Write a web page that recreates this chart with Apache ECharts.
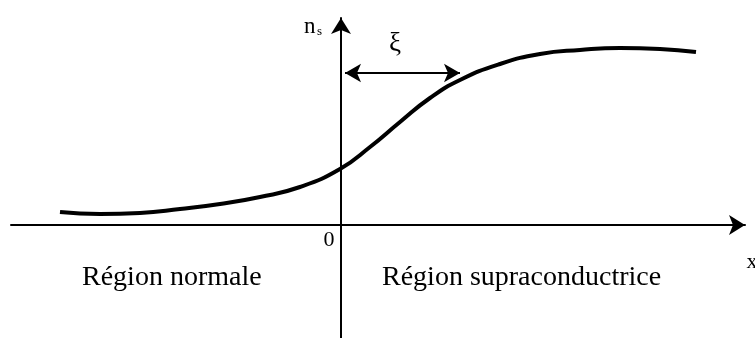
<!DOCTYPE html>
<html>
<meta charset="UTF-8">
<title>ns-interface</title>
<style type="text/css">
    html,
    body {
        margin: 0px;
        height: 100%;
        width: 100%;
        background: #fff;
    }

    .container {
        width: 755px;
        height: 338px;
    }
</style>
<script src="https://cdn.jsdelivr.net/npm/echarts@6/dist/echarts.min.js"></script>

<body>
    <div class="container" id="chart"></div>
    <script>

        // position x (0 = interface) and superfluid density n_s
        const xs = [-2.81, -2.41, -2.01, -1.61, -1.21, -0.81, -0.41, -0.01,
            0.29, 0.59, 0.89, 1.19, 1.59, 1.99, 2.39, 2.79, 3.19, 3.55];
        const ns = [0.13, 0.11, 0.12, 0.16, 0.21, 0.28, 0.38, 0.56,
            0.78, 1.03, 1.27, 1.45, 1.61, 1.71, 1.75, 1.77, 1.76, 1.73];
        // coherence length arrow (ξ)
        const xiStart = [0.04, 1.52];
        const xiEnd = [1.19, 1.52];

        const serif = '"Liberation Serif", "DejaVu Serif", serif';
        const chart = echarts.init(document.querySelector('#chart'));

        const axisLine = {
            onZero: true,
            symbol: ['none', 'arrow'],
            symbolSize: [15, 16],
            lineStyle: { color: '#000', width: 2 }
        };

        const options = {
            animation: false,
            grid: { left: 11, right: 10, top: 18, bottom: 0 },
            xAxis: {
                type: 'value',
                min: -3.3,
                max: 4.04,
                axisLine: axisLine,
                axisTick: { show: false },
                axisLabel: { show: false },
                splitLine: { show: false }
            },
            yAxis: {
                type: 'value',
                min: -1.13,
                max: 2.07,
                axisLine: axisLine,
                axisTick: { show: false },
                axisLabel: { show: false },
                splitLine: { show: false }
            },
            graphic: [
                { type: 'text', x: 304, y: 27, style: { text: 'n', font: '23px ' + serif, fill: '#000', verticalAlign: 'middle' } },
                { type: 'text', x: 317, y: 32, style: { text: 's', font: '13px ' + serif, fill: '#000', verticalAlign: 'middle' } },
                { type: 'text', x: 395, y: 44, style: { text: 'ξ', font: '27px ' + serif, fill: '#000', align: 'center', verticalAlign: 'middle' } },
                { type: 'text', x: 329, y: 240, style: { text: '0', font: '22px ' + serif, fill: '#000', align: 'center', verticalAlign: 'middle' } },
                { type: 'text', x: 752, y: 262, style: { text: 'x', font: '22px ' + serif, fill: '#000', align: 'center', verticalAlign: 'middle' } },
                { type: 'text', x: 82, y: 278, style: { text: 'Région normale', font: '28px ' + serif, fill: '#000', verticalAlign: 'middle' } },
                { type: 'text', x: 382, y: 278, style: { text: 'Région supraconductrice', font: '28px ' + serif, fill: '#000', verticalAlign: 'middle' } }
            ],
            series: [
                {
                    type: 'line',
                    data: xs.map((x, i) => [x, ns[i]]),
                    smooth: 0.5,
                    showSymbol: false,
                    silent: true,
                    lineStyle: { color: '#000', width: 4 },
                    markLine: {
                        silent: true,
                        symbol: ['arrow', 'arrow'],
                        symbolSize: [14, 16],
                        label: { show: false },
                        lineStyle: { color: '#000', width: 2, type: 'solid' },
                        data: [[{ coord: xiStart }, { coord: xiEnd }]]
                    }
                }
            ]
        };
        chart.setOption(options);

    </script>
</body>

</html>
